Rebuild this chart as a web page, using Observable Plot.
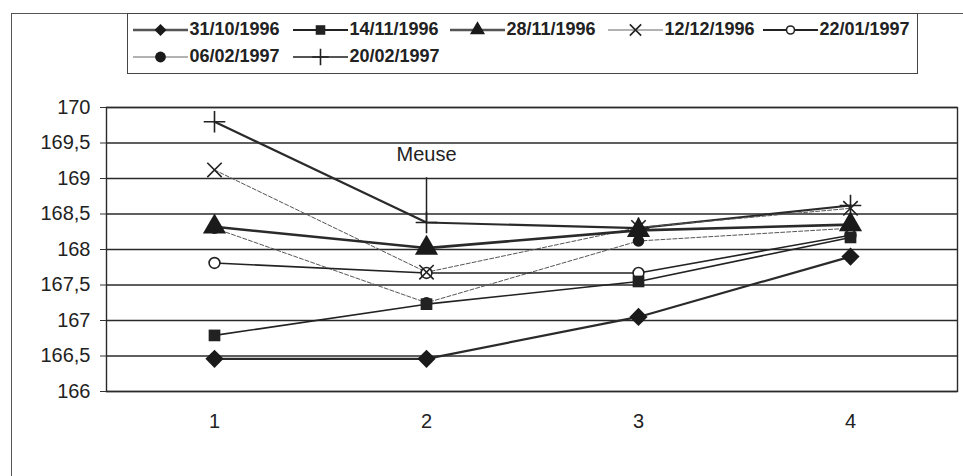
<!DOCTYPE html>
<html><head><meta charset="utf-8">
<script src="https://cdn.jsdelivr.net/npm/d3@7"></script>
<script src="https://cdn.jsdelivr.net/npm/@observablehq/plot@0.6"></script>
<style>
html,body{margin:0;padding:0;background:#fff;}
#page{position:relative;width:963px;height:476px;overflow:hidden;font-family:"Liberation Sans",Arial,sans-serif;color:#222;}
#frame{position:absolute;left:11px;top:13px;width:1000px;height:500px;border-left:1.5px solid #555;border-top:1.5px solid #555;}
#legend{position:absolute;left:127px;top:13px;width:789px;height:59px;border:1.5px solid #444;background:#fff;}
.item{position:absolute;display:flex;align-items:center;height:20px;font-size:18px;font-weight:bold;white-space:nowrap;color:#222;}
.item svg{display:block;margin-right:2px;}
#chart{position:absolute;left:0;top:80px;}
</style></head>
<body><div id="page"><div id="frame"></div><div id="legend"></div><div id="chart"></div></div>
<script>
// ---- data ----
const categories = [1, 2, 3, 4];
const seriesNames = ["31/10/1996", "14/11/1996", "28/11/1996", "12/12/1996", "22/01/1997", "06/02/1997", "20/02/1997"];
const s_31_10_1996 = [166.46, 166.46, 167.05, 167.90];
const s_14_11_1996 = [166.79, 167.23, 167.55, 168.17];
const s_28_11_1996 = [168.32, 168.02, 168.27, 168.35];
const s_12_12_1996 = [169.12, 167.68, 168.31, 168.58];
const s_22_01_1997 = [167.81, 167.67, 167.67, 168.20];
const s_06_02_1997 = [168.30, 167.25, 168.12, 168.30];
const s_20_02_1997 = [169.80, 168.38, 168.30, 168.62];
const seriesValues = [s_31_10_1996, s_14_11_1996, s_28_11_1996, s_12_12_1996, s_22_01_1997, s_06_02_1997, s_20_02_1997];
const yTicks = [166, 166.5, 167, 167.5, 168, 168.5, 169, 169.5, 170];
const annotationLabel = "Meuse";
const annotationX = 2;
const annotationLabelY = 169.34;
const annotationTop = 169.01;
const annotationBottom = 168.38;

// ---- styles ----
const styles = {
  "31/10/1996": {line: "#2a2a2a", width: 2.2, dash: null, symbol: "diamond2", r: 8.2, fill: "#1a1a1a", stroke: "none", sw: 0, legendLine: "#555", legendWidth: 2.6, legendR: 5.4},
  "14/11/1996": {line: "#222", width: 1.6, dash: null, symbol: "square", r: 6.6, fill: "#222", stroke: "none", sw: 0, legendLine: "#222", legendWidth: 1.8, legendR: 5.4},
  "28/11/1996": {line: "#2a2a2a", width: 2.6, dash: null, symbol: "triangle", r: 8.6, fill: "#1a1a1a", stroke: "none", sw: 0, legendLine: "#555", legendWidth: 2.6, legendR: 5.6},
  "12/12/1996": {line: "#555", width: 1, dash: "4,2", symbol: "times", r: 6.6, fill: "none", stroke: "#222", sw: 1.6, legendLine: "#666", legendWidth: 1.2, legendR: 5.2},
  "22/01/1997": {line: "#222", width: 1.6, dash: null, symbol: "circle", r: 5.4, fill: "#fff", stroke: "#222", sw: 1.6, legendLine: "#222", legendWidth: 1.8, legendR: 4},
  "06/02/1997": {line: "#555", width: 1, dash: "4,2", symbol: "circle", r: 5.8, fill: "#1a1a1a", stroke: "none", sw: 0, legendLine: "#666", legendWidth: 1.2, legendR: 5.4},
  "20/02/1997": {line: "#2a2a2a", width: 2.2, dash: null, symbol: "plus", r: 7, fill: "none", stroke: "#222", sw: 1.6, legendLine: "#555", legendWidth: 1.8, legendR: 5.4}
};
const d3Symbols = {diamond2: d3.symbolDiamond2, square: d3.symbolSquare, triangle: d3.symbolTriangle, times: d3.symbolTimes, circle: d3.symbolCircle, plus: d3.symbolPlus};

const data = seriesNames.flatMap((name, i) => categories.map((c, j) => ({series: name, x: c, y: seriesValues[i][j]})));
const annotation = [{x: annotationX, labelY: annotationLabelY, top: annotationTop, bottom: annotationBottom, label: annotationLabel}];

const marks = [
  Plot.gridY(yTicks, {stroke: "#2a2a2a", strokeOpacity: 1, strokeWidth: 1.3}),
  Plot.frame({stroke: "#2a2a2a", strokeWidth: 1.4})
];
const order = [...seriesNames].reverse();
for (const name of order) {
  const st = styles[name];
  marks.push(Plot.line(data.filter(d => d.series === name), {x: "x", y: "y", stroke: st.line, strokeWidth: st.width, strokeDasharray: st.dash}));
}
marks.push(Plot.ruleX(annotation, {x: "x", y1: "top", y2: "bottom", stroke: "#222", strokeWidth: 1.5}));
for (const name of order) {
  const st = styles[name];
  marks.push(Plot.dot(data.filter(d => d.series === name), {x: "x", y: "y", symbol: st.symbol, r: st.r, fill: st.fill, stroke: st.stroke, strokeWidth: st.sw}));
}
marks.push(Plot.text(annotation, {x: "x", y: "labelY", text: "label", fontSize: 20, fill: "#222"}));
marks.push(Plot.axisY({ticks: yTicks, tickFormat: d => String(d).replace(".", ","), tickSize: 6, tickPadding: 10, fontSize: 20, label: null, stroke: "#333"}));
marks.push(Plot.axisX({ticks: categories, tickSize: 0, tickPadding: 22, fontSize: 20, label: null}));

const chart = Plot.plot({
  width: 963, height: 396,
  marginTop: 27, marginLeft: 106, marginRight: 6, marginBottom: 85,
  x: {type: "point", domain: categories, padding: 0.5},
  y: {domain: [166, 170]},
  style: {fontFamily: "'Liberation Sans', Arial, sans-serif", color: "#222", background: "transparent", overflow: "visible"},
  marks
});
document.getElementById("chart").appendChild(chart);

// ---- legend ----
const legend = document.getElementById("legend");
const colX = [4.5, 164.5, 321.5, 479.5, 634.5];
const rowY = [5.5, 32.5];
seriesNames.forEach((name, i) => {
  const st = styles[name];
  const item = document.createElement("div");
  item.className = "item";
  item.style.left = colX[i % 5] + "px";
  item.style.top = rowY[Math.floor(i / 5)] + "px";
  const svg = d3.create("svg").attr("width", 55).attr("height", 20);
  svg.append("line").attr("x1", 0).attr("x2", 55).attr("y1", 10).attr("y2", 10)
    .attr("stroke", st.legendLine).attr("stroke-width", st.legendWidth);
  const size = Math.PI * st.legendR * st.legendR;
  svg.append("path").attr("transform", "translate(27.5,10)")
    .attr("d", d3.symbol(d3Symbols[st.symbol], size)())
    .attr("fill", st.fill).attr("stroke", st.stroke === "none" ? null : st.stroke).attr("stroke-width", st.sw || null);
  item.appendChild(svg.node());
  const span = document.createElement("span");
  span.textContent = name;
  item.appendChild(span);
  legend.appendChild(item);
});
</script>
</body></html>
